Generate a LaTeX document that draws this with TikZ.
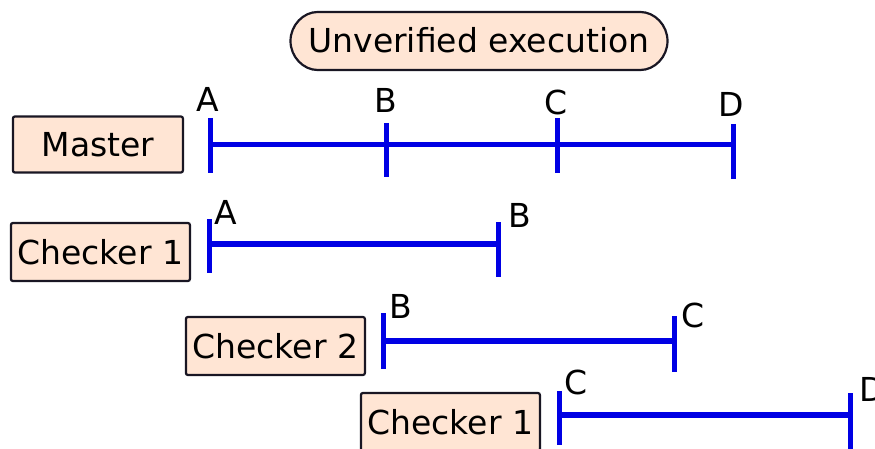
\documentclass[tikz,border=0pt]{standalone}
\usepackage{fontspec}
\setmainfont{DejaVu Sans}
\usepackage{xcolor}
\usetikzlibrary{positioning,shapes.misc}
\definecolor{peach}{RGB}{255,229,212}
\definecolor{runblue}{RGB}{0,0,228}
\definecolor{edge}{RGB}{25,22,35}

\begin{document}
\begin{tikzpicture}[
    x=1pt, y=-1pt,
    font=\fontsize{33}{40}\selectfont,
    role/.style={draw=edge, line width=2.2pt, fill=peach, inner sep=0pt, rounded corners=2pt,
        text height=24pt, text depth=0pt, minimum width=179pt, minimum height=58pt},
    banner/.style={role, rounded rectangle, minimum width=377pt},
    span/.style={draw=runblue, line width=5.5pt},
    tick/.style={draw=runblue, line width=5pt},
    point/.style={inner sep=0pt, anchor=base}
]
\useasboundingbox (0,0) rectangle (875,449);

% Title
\node[banner] (title) at (479,41) {Unverified execution};

% Master run
\coordinate (mA) at (210,144.5);
\coordinate (mB) at (386,144.5);
\coordinate (mC) at (557,144.5);
\coordinate (mD) at (733,144.5);
\node[role, minimum width=170pt, minimum height=56pt, left=26pt of mA] (master) {Master};
\draw[span] (mA) -- (mB) -- (mC) -- (mD);
\draw[tick] (mA) ++(0,-26.5) -- ++(0,55);
\draw[tick] (mB) ++(0,-21.5) -- ++(0,54);
\draw[tick] (mC) ++(0,-26.5) -- ++(0,55);
\draw[tick] (mD) ++(0,-20.5) -- ++(0,55);
\node[point] (mAl) at (208,112) {A};
\node[point] (mBl) at (386,113) {B};
\node[point] (mCl) at (556,115) {C};
\node[point] (mDl) at (731,117) {D};

% First checker run
\coordinate (cA) at (209,244);
\coordinate (cB) at (498,244);
\node[role, left=18pt of cA, yshift=-8pt] (check1) {Checker 1};
\draw[span] (cA) -- (cB);
\draw[tick] (cA) ++(0,-25) -- ++(0,54);
\draw[tick] (cB) ++(0,-22) -- ++(0,55);
\node[point] (cAl) at (226,224) {A};
\node[point] (cBl) at (520,227) {B};

% Second checker run
\coordinate (dB) at (383,341);
\coordinate (dC) at (674,341);
\node[role, left=17pt of dB, yshift=-5pt] (check2) {Checker 2};
\draw[span] (dB) -- (dC);
\draw[tick] (dB) ++(0,-28) -- ++(0,56);
\draw[tick] (dC) ++(0,-25) -- ++(0,56);
\node[point] (dBl) at (401,318) {B};
\node[point] (dCl) at (693,327) {C};

% Third checker run
\coordinate (eC) at (559,415);
\coordinate (eD) at (850,415);
\node[role, left=18pt of eC, yshift=-7pt] (check3) {Checker 1};
\draw[span] (eC) -- (eD);
\draw[tick] (eC) ++(0,-24) -- ++(0,54);
\draw[tick] (eD) ++(0,-22) -- ++(0,56);
\node[point] (eCl) at (576,394) {C};
\node[point] (eDl) at (872,401) {D};

\end{tikzpicture}
\end{document}
